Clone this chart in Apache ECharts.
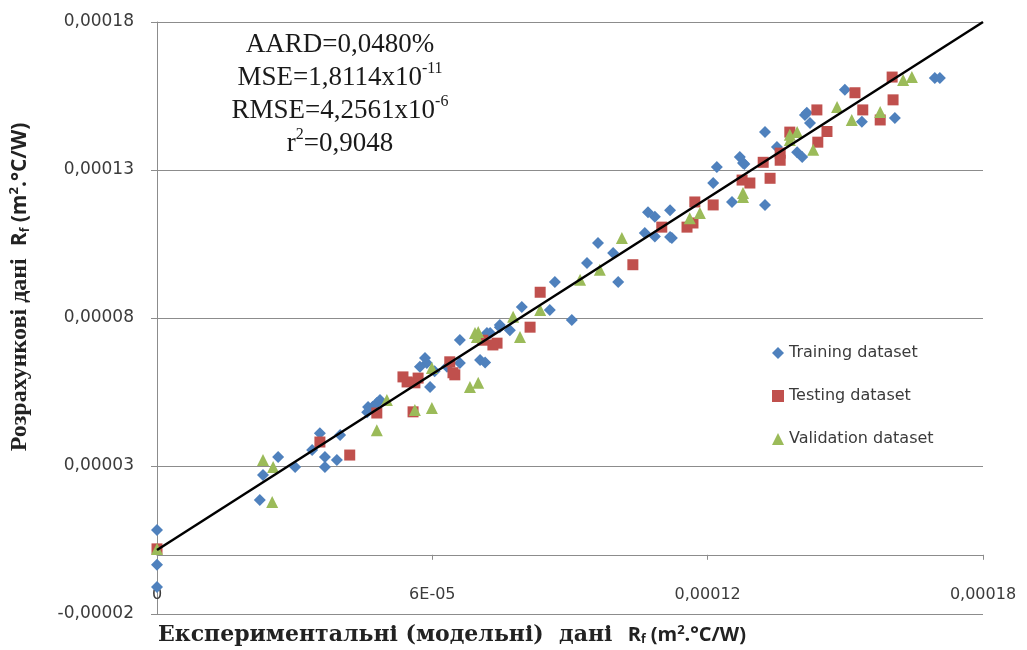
<!DOCTYPE html>
<html>
<head>
<meta charset="utf-8">
<script src="https://cdn.jsdelivr.net/npm/echarts@6/dist/echarts.min.js"></script>
<style>
  html, body { margin: 0; padding: 0; background: #fff; }
  #chart { width: 1027px; height: 650px; }
</style>
</head>
<body>
<div id="chart"></div>
<script>
const trainingData = [
  [0, 0.84e-5], [0, -0.34e-5], [0, -1.09e-5],
  [2.24e-5, 1.85e-5], [2.31e-5, 2.70e-5], [2.64e-5, 3.30e-5], [3.01e-5, 2.97e-5],
  [3.55e-5, 4.11e-5], [3.66e-5, 3.30e-5], [3.92e-5, 3.20e-5], [3.66e-5, 2.97e-5],
  [3.99e-5, 4.05e-5], [3.38e-5, 3.54e-5], [4.58e-5, 4.82e-5], [4.79e-5, 5.13e-5],
  [4.60e-5, 4.99e-5], [4.86e-5, 5.23e-5],
  [4.70e-5, 5.00e-5], [5.95e-5, 5.67e-5], [5.88e-5, 6.48e-5], [6.05e-5, 6.20e-5],
  [5.73e-5, 6.35e-5], [5.84e-5, 6.65e-5], [6.60e-5, 6.48e-5], [7.19e-5, 7.49e-5], [7.47e-5, 7.69e-5],
  [6.32e-5, 6.35e-5], [6.60e-5, 7.26e-5], [7.04e-5, 6.58e-5], [7.15e-5, 6.50e-5],
  [7.26e-5, 7.49e-5], [7.47e-5, 7.76e-5], [7.69e-5, 7.59e-5], [7.95e-5, 8.37e-5],
  [8.56e-5, 8.27e-5], [8.67e-5, 9.22e-5], [9.04e-5, 7.93e-5], [9.37e-5, 9.86e-5],
  [9.61e-5, 10.53e-5], [9.94e-5, 10.20e-5], [10.05e-5, 9.22e-5], [10.63e-5, 10.87e-5],
  [10.70e-5, 11.57e-5], [11.18e-5, 11.64e-5], [11.22e-5, 10.70e-5], [10.85e-5, 10.75e-5],
  [10.85e-5, 11.42e-5], [11.18e-5, 10.74e-5],
  [12.12e-5, 12.56e-5], [12.20e-5, 13.10e-5], [12.53e-5, 11.92e-5], [12.70e-5, 13.44e-5],
  [12.80e-5, 13.20e-5], [12.77e-5, 13.24e-5], [13.25e-5, 11.82e-5], [13.25e-5, 14.28e-5], [14.06e-5, 13.44e-5],
  [13.51e-5, 13.78e-5], [14.16e-5, 14.93e-5], [14.23e-5, 14.59e-5],
  [14.12e-5, 14.86e-5], [13.95e-5, 13.60e-5], [14.99e-5, 15.71e-5], [15.36e-5, 14.63e-5],
  [16.08e-5, 14.76e-5], [16.95e-5, 16.11e-5], [17.06e-5, 16.11e-5]
];
const testingData = [
  [0, 0.2e-5], [3.55e-5, 3.81e-5], [4.20e-5, 3.37e-5], [4.79e-5, 4.79e-5],
  [5.45e-5, 5.84e-5], [5.69e-5, 5.97e-5], [5.58e-5, 4.83e-5], [6.49e-5, 6.08e-5],
  [5.36e-5, 6.01e-5], [5.62e-5, 5.81e-5], [6.45e-5, 6.15e-5], [7.41e-5, 7.15e-5],
  [6.38e-5, 6.52e-5], [7.32e-5, 7.09e-5], [7.10e-5, 7.25e-5], [8.13e-5, 7.69e-5],
  [8.35e-5, 8.87e-5], [10.37e-5, 9.80e-5], [11.55e-5, 11.07e-5], [11.72e-5, 11.92e-5],
  [11.00e-5, 11.07e-5], [11.68e-5, 11.21e-5], [12.92e-5, 12.56e-5], [13.58e-5, 13.57e-5],
  [12.12e-5, 11.82e-5], [12.75e-5, 12.66e-5], [13.21e-5, 13.26e-5], [13.36e-5, 12.72e-5],
  [13.58e-5, 13.33e-5], [13.79e-5, 14.28e-5], [14.38e-5, 15.03e-5], [14.40e-5, 13.94e-5],
  [14.60e-5, 14.30e-5], [15.21e-5, 15.61e-5], [15.38e-5, 15.03e-5], [15.76e-5, 14.69e-5],
  [16.02e-5, 16.14e-5], [16.04e-5, 15.37e-5]
];
const validationData = [
  [0, 0.2e-5], [2.31e-5, 3.20e-5], [2.53e-5, 2.97e-5], [2.51e-5, 1.78e-5],
  [4.79e-5, 4.21e-5], [5.01e-5, 5.23e-5], [5.62e-5, 4.89e-5], [5.99e-5, 4.96e-5],
  [5.99e-5, 6.31e-5], [6.82e-5, 5.67e-5], [7.00e-5, 5.81e-5], [7.00e-5, 7.53e-5],
  [6.97e-5, 7.36e-5], [6.93e-5, 7.49e-5], [7.76e-5, 8.04e-5], [7.91e-5, 7.36e-5], [8.35e-5, 8.27e-5],
  [9.22e-5, 9.29e-5], [9.65e-5, 9.63e-5], [10.13e-5, 10.70e-5], [11.61e-5, 11.37e-5],
  [11.83e-5, 11.55e-5], [12.77e-5, 12.22e-5],
  [12.77e-5, 12.09e-5], [13.79e-5, 14.19e-5], [13.79e-5, 14.01e-5], [14.30e-5, 13.68e-5],
  [13.95e-5, 14.28e-5],
  [14.82e-5, 15.13e-5], [15.14e-5, 14.69e-5], [15.76e-5, 14.96e-5], [16.26e-5, 16.04e-5],
  [16.45e-5, 16.14e-5]
];
const fitLine = [[0, 0.16e-5], [18e-5, 18e-5]];
const seriesNames = ['Training dataset', 'Testing dataset', 'Validation dataset'];
const xTickLabels = ['0', '6E-05', '0,00012', '0,00018'];
const statLines = ['AARD=0,0480%', 'MSE=1,8114x10{sup|-11}', 'RMSE=4,2561x10{sup|-6}', 'r{sup|2}=0,9048'];

const chart = echarts.init(document.getElementById('chart'));
const gridColor = '#8c8c8c';
const labelFont = 'DejaVu Sans';

const titleRich = (serifFont, serifSize, sansSize) => ({
  s: { fontFamily: serifFont, fontWeight: 'bold', fontSize: serifSize, fill: '#222' },
  b: { fontFamily: 'Open Sans', fontWeight: 'bold', fontSize: sansSize, fill: '#222' },
  bs: { fontFamily: 'Open Sans', fontWeight: 'bold', fontSize: 12, fill: '#222', verticalAlign: 'bottom' },
  bp: { fontFamily: 'Open Sans', fontWeight: 'bold', fontSize: 13, fill: '#222', verticalAlign: 'top' }
});

const option = {
  animation: false,
  grid: { left: 157, right: 44, top: 22, bottom: 36, outerBoundsMode: 'none' },
  xAxis: {
    type: 'value',
    min: 0, max: 0.00018, interval: 0.00006,
    axisLine: { onZero: true, lineStyle: { color: gridColor, width: 1 } },
    axisTick: { show: true, length: 5, lineStyle: { color: gridColor } },
    splitLine: { show: false },
    axisLabel: {
      margin: -27, color: '#3b3b3b', fontSize: 16, fontFamily: labelFont,
      formatter: v => xTickLabels[Math.round(v / 0.00006)]
    }
  },
  yAxis: {
    type: 'value',
    min: -0.00002, max: 0.00018, interval: 0.00005,
    axisLine: { show: true, onZero: false, lineStyle: { color: gridColor, width: 1 } },
    axisTick: { show: true, length: 6, lineStyle: { color: gridColor } },
    splitLine: { show: true, lineStyle: { color: gridColor, width: 1 } },
    axisLabel: {
      margin: 23, color: '#3b3b3b', fontSize: 17, fontFamily: labelFont,
      formatter: v => v.toFixed(5).replace('.', ',')
    }
  },
  legend: {
    data: seriesNames,
    orient: 'vertical',
    left: 767, top: 340,
    itemGap: 27, itemWidth: 12, itemHeight: 12,
    textStyle: { fontSize: 16, color: '#3b3b3b', fontFamily: labelFont }
  },
  series: [
    {
      name: seriesNames[0], type: 'scatter', data: trainingData,
      symbol: 'diamond', symbolSize: 12,
      itemStyle: { color: '#4f81bd', opacity: 1 }
    },
    {
      name: seriesNames[1], type: 'scatter', data: testingData,
      symbol: 'rect', symbolSize: 11,
      itemStyle: { color: '#c0504d', opacity: 1 }
    },
    {
      name: seriesNames[2], type: 'scatter', data: validationData,
      symbol: 'triangle', symbolSize: 12,
      itemStyle: { color: '#9bbb59', opacity: 1 }
    },
    {
      type: 'line', data: fitLine, symbol: 'none', z: 5,
      lineStyle: { color: '#000', width: 2.5 }
    }
  ],
  graphic: [
    {
      type: 'text', x: 340, y: 28,
      style: {
        text: statLines.join('\n'),
        textAlign: 'center',
        fontFamily: 'Liberation Serif', fontSize: 27, lineHeight: 33, fill: '#1a1a1a',
        rich: { sup: { fontSize: 16, verticalAlign: 'top', lineHeight: 33, fill: '#1a1a1a', fontFamily: 'Liberation Serif' } }
      }
    },
    {
      type: 'text', x: 158, y: 635,
      style: {
        text: '{s|Експериментальні (модельні)  дані  }{b|R}{bs|f}{b| (m}{bp|2}{b|.°C/W)}',
        textAlign: 'left', textVerticalAlign: 'middle',
        rich: titleRich('DejaVu Serif', 22, 20)
      }
    },
    {
      type: 'text', x: 20, y: 287, rotation: Math.PI / 2,
      style: {
        text: '{s|Розрахункові дані  }{b|R}{bs|f}{b| (m}{bp|2}{b|.°C/W)}',
        textAlign: 'center', textVerticalAlign: 'middle',
        rich: titleRich('Liberation Serif', 24, 21)
      }
    }
  ]
};
chart.setOption(option);
</script>
</body>
</html>
